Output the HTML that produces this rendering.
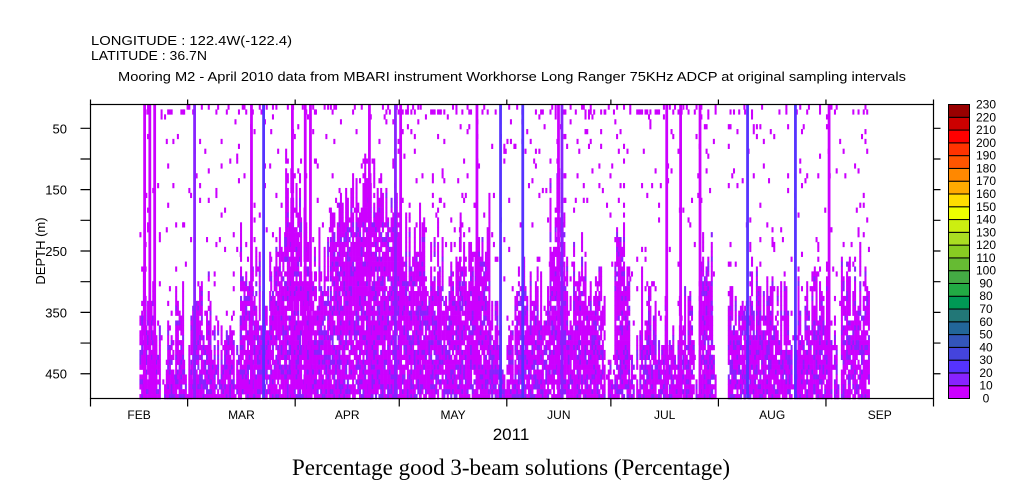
<!DOCTYPE html>
<html><head><meta charset="utf-8">
<style>
html,body{margin:0;padding:0;background:#fff;}
svg{display:block;font-family:"Liberation Sans",sans-serif;}
</style></head>
<body>
<svg id="chart" width="1009" height="504" viewBox="0 0 1009 504" xmlns="http://www.w3.org/2000/svg">
<text x="91" y="45" font-size="13" textLength="201" lengthAdjust="spacingAndGlyphs">LONGITUDE : 122.4W(-122.4)</text>
<text x="91" y="60" font-size="13" textLength="116" lengthAdjust="spacingAndGlyphs">LATITUDE : 36.7N</text>
<text x="118" y="81" font-size="13" textLength="788" lengthAdjust="spacingAndGlyphs">Mooring M2 - April 2010 data from MBARI instrument Workhorse Long Ranger 75KHz ADCP at original sampling intervals</text>
<g id="cells"></g>
<g id="axes"></g>
<g id="cbar"></g>
<text transform="translate(45,251) rotate(-90)" text-anchor="middle" font-size="13">DEPTH (m)</text>
<text x="511" y="440" text-anchor="middle" font-size="17">2011</text>
<text x="511" y="475" text-anchor="middle" font-size="23" font-family="'Liberation Serif',serif">Percentage good 3-beam solutions (Percentage)</text>
</svg>
<script>
// ---- data ----
const months = ["FEB","MAR","APR","MAY","JUN","JUL","AUG","SEP"];
const monthStartDays = [0,28,59,89,120,150,181,212,243];
const depthTickLabels = [50,150,250,350,450];
const depthMinorTicks = [100,200,300,400];
// dense-coverage segments: start day, end day (days since 2011-02-01), shallowest dense depth (m)
const segStart = [14.1,15.8,18.7,22.1,24.4,26.7,28.8,30.8,34.5,43.1,46,51.8,56.1,60.4,64.7,69,71.9,80.5,89.2,94.9,100.7,106.4,110.7,112.2,115,119.4,122.2,125.1,132.3,136.6,140.9,148.1,151,155.3,158.2,161.1,164.5,166.2,169.6,173.9,175.3,178.9,183.7,188.4,191.3,201.3,202.8,208.5,212.8,216.3,218.6];
const segEnd   = [15.8,18.7,22.1,24.4,26.7,28.8,30.8,34.5,43.1,46,51.8,56.1,60.4,64.7,69,71.9,80.5,89.2,94.9,100.7,106.4,110.7,112.2,115,119.4,122.2,125.1,132.3,136.6,140.9,148.1,151,155.3,158.2,161.1,164.5,166.2,169.6,173.9,175.3,178.9,180,188.4,191.3,201.3,202.8,208.5,212.8,216.3,218.6,224.3];
const segTop   = [318,357,416,395,313,457,362,330,410,260,297,276,139,221,265,210,139,155,221,248,276,248,195,195,383,412,276,309,167,286,276,465,232,428,330,357,374,395,330,439,276,412,341,302,330,439,330,318,439,302,286];
// full-height stripes: day and value (percent good)
const stripeDay = [15.2,16.7,18.1,29.6,46,49.5,57.8,61.5,63,80,87.5,89,111,117.8,124.2,134.5,135.5,165.7,169.7,175.3,189,202.8,212.5];
const stripeVal = [5,5,5,15,5,25,5,5,5,5,15,5,5,25,25,5,15,5,5,5,25,25,5];
// colorbar
const cbLevels = [0,10,20,30,40,50,60,70,80,90,100,110,120,130,140,150,160,170,180,190,200,210,220,230];
const cbColors = ["#cc00ff","#8822ff","#5533ff","#4444dd","#3355bb","#226699","#227777","#009955","#22aa44","#44aa44","#66bb33","#88cc22","#aadd22","#ccee11","#eeff00","#ffdd00","#ffaa00","#ff8800","#ff5500","#ff3300","#ff0000","#cc0000","#990000"];

// ---- scales ----
const X0=90.5, X1=933.5, Y0=104.5, Y1=398.5, DAYS=243;
const D0=11.2, D1=490.4;
const xs = d => X0 + (X1-X0)*d/DAYS;
const ys = m => Y0 + (Y1-Y0)*(m-D0)/(D1-D0);
const NS="http://www.w3.org/2000/svg";
function mk(tag, attrs){const e=document.createElementNS(NS,tag);for(const k in attrs)e.setAttribute(k,attrs[k]);return e;}
function color(v){let i=Math.min(cbColors.length-1,Math.max(0,Math.floor(v/10)));return cbColors[i];}
function h(i,j){let n=(i*374761393+j*668265263)>>>0;n=(n^(n>>>13))*1274126177>>>0;return ((n^(n>>>16))>>>0)/4294967296;}

const cells=document.getElementById('cells');
const colW=0.5, rowH=8;
const nRows=Math.ceil((D1-D0)/rowH);
for(let s=0;s<segStart.length;s++){
  for(let d=segStart[s]; d<segEnd[s]-0.01; d+=colW){
    const ci=Math.round(d*2);
    const colTop = segTop[s] + (h(ci,999)-0.45)*140;
    for(let r=0;r<nRows;r++){
      const dep=D0+r*rowH;
      let p;
      if(dep>=colTop) p=0.88;
      else p = r<2 ? 0.2 : 0.035;
      if(h(ci,r)<p){
        const v = (dep>colTop && h(r,ci+7)<0.3*(dep-D0)/(D1-D0)) ? 15 : 5;
        const rc=mk('rect',{x:xs(d).toFixed(2),y:ys(dep).toFixed(2),width:(xs(d+colW)-xs(d)+0.3).toFixed(2),height:(ys(dep+rowH)-ys(dep)+0.3).toFixed(2),fill:color(v)});
        
        
        cells.appendChild(rc);
      }
    }
  }
}
for(let i=0;i<stripeDay.length;i++){
  const rc=mk('rect',{x:xs(stripeDay[i]).toFixed(2),y:Y0,width:(xs(0.8)-xs(0)).toFixed(2),height:Y1-Y0,fill:color(stripeVal[i])});
  
  
  cells.appendChild(rc);
}

// ---- axes ----
const ax=document.getElementById('axes');
const frame=mk('rect',{x:X0,y:Y0,width:X1-X0,height:Y1-Y0,fill:'none',stroke:'#000','stroke-width':1.2});


ax.appendChild(frame);
for(const d of monthStartDays){
  const x=xs(d);
  const t=mk('path',{d:`M${x},${Y1} V${Y1+8} M${x},${Y0} V${Y0-5}`,stroke:'#000','stroke-width':1.2});
  
  
  ax.appendChild(t);
}
for(let i=0;i<months.length;i++){
  const x=(xs(monthStartDays[i])+xs(monthStartDays[i+1]))/2;
  const t=mk('text',{x:x,y:419,'text-anchor':'middle','font-size':12});
  t.textContent=months[i];
  
  
  ax.appendChild(t);
}
for(const m of depthTickLabels.concat(depthMinorTicks)){
  const y=ys(m);
  const t=mk('path',{d:`M${X0-10},${y} H${X0} M${X1},${y} H${X1+7}`,stroke:'#000','stroke-width':1.2});
  
  
  ax.appendChild(t);
}
for(const m of depthTickLabels){
  const t=mk('text',{x:67,y:ys(m)+5,'text-anchor':'end','font-size':13});
  t.textContent=m;
  
  
  ax.appendChild(t);
}

// ---- colorbar ----
const cb=document.getElementById('cbar');
const CB0=104.5, CB1=398.5, n=cbColors.length, bh=(CB1-CB0)/n;
for(let i=0;i<n;i++){
  const r=mk('rect',{x:948.5,y:CB1-(i+1)*bh,width:21,height:bh,fill:cbColors[i],stroke:'#000','stroke-width':1});
  
  
  cb.appendChild(r);
}
for(let i=0;i<cbLevels.length;i++){
  const t=mk('text',{x:986,y:CB1-i*bh+4,'text-anchor':'middle','font-size':12});
  t.textContent=cbLevels[i];
  
  
  cb.appendChild(t);
}
</script>
</body></html>
